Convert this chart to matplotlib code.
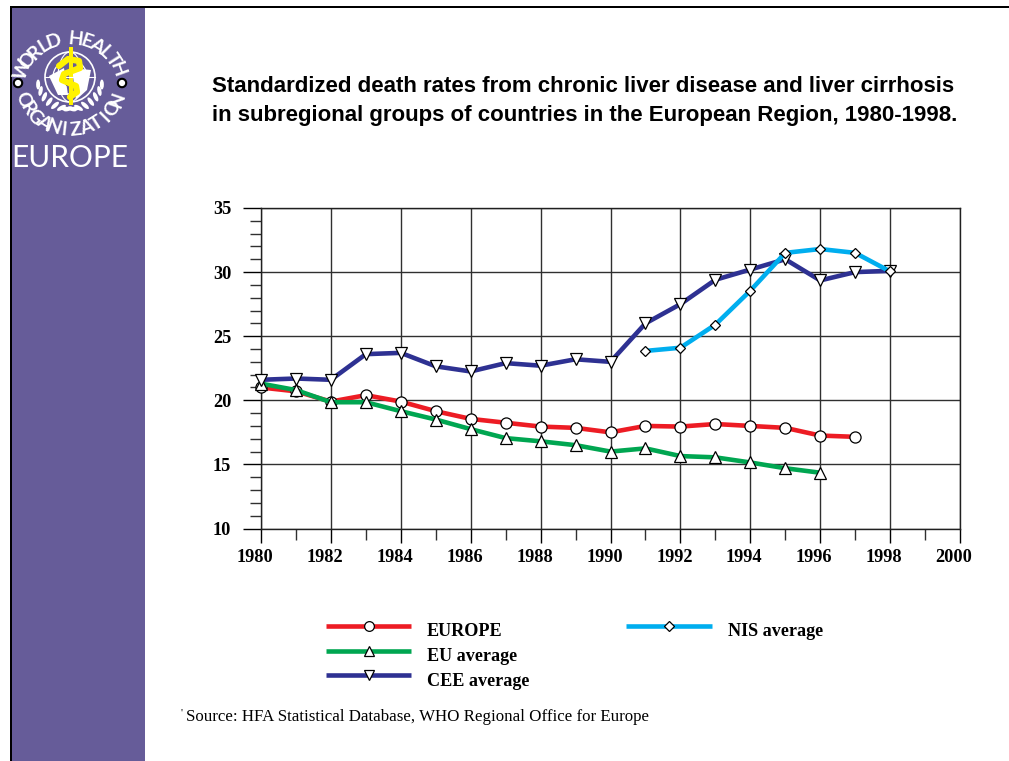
import numpy as np
import matplotlib
matplotlib.use('Agg')
import matplotlib.pyplot as plt
from matplotlib.lines import Line2D
from matplotlib.patches import Rectangle, Circle, Ellipse, Polygon
from matplotlib.transforms import ScaledTranslation

years = list(range(1980, 1999))

europe = [21.0, 20.7, 19.9, 20.4, 19.9, 19.15, 18.55, 18.25, 17.95, 17.85,
          17.5, 18.0, 17.95, 18.15, 18.0, 17.85, 17.25, 17.15]
eu = [21.3, 20.8, 19.85, 19.85, 19.15, 18.5, 17.75, 17.05, 16.8, 16.5,
      16.0, 16.25, 15.65, 15.55, 15.15, 14.7, 14.35]
cee = [21.6, 21.7, 21.6, 23.6, 23.7, 22.65, 22.25, 22.9, 22.7, 23.2,
       23.0, 26.0, 27.5, 29.4, 30.2, 31.0, 29.35, 30.0, 30.1]
nis_years = list(range(1991, 1999))
nis = [23.85, 24.1, 25.9, 28.55, 31.5, 31.8, 31.5, 30.05]

x_ticks = list(range(1980, 2001, 2))
y_ticks = [10, 15, 20, 25, 30, 35]

RED = '#ed1c24'
GREEN = '#00a651'
NAVY = '#2e3192'
CYAN = '#00aeef'
PURPLE = '#665c99'

title_lines = ['Standardized death rates from chronic liver disease and liver cirrhosis',
               'in subregional groups of countries in the European Region, 1980-1998.']
source = 'Source: HFA Statistical Database, WHO Regional Office for Europe'

W, H = 1009, 761
fig = plt.figure(figsize=(W / 100, H / 100), dpi=100)

# background layer in pixel coordinates
bg = fig.add_axes([0, 0, 1, 1], zorder=0)
bg.set_xlim(0, W)
bg.set_ylim(H, 0)
bg.axis('off')

bg.add_patch(Rectangle((11, 7), 134, 754, fc=PURPLE, ec='none'))
bg.add_patch(Rectangle((10, 5.5), 1000, 2, fc='black', ec='none'))
bg.add_patch(Rectangle((10, 5.5), 2, 756, fc='black', ec='none'))


def arc_text(txt, cx, cy, rx, ry, a0, a1, top=True):
    angles = np.linspace(a0, a1, len(txt))
    for ch, a in zip(txt, angles):
        px = cx + rx * np.cos(np.radians(a))
        py = cy - ry * np.sin(np.radians(a))
        rot = a - 90 if top else a + 90
        bg.text(px, py, ch, color='white', fontsize=14, family='Lato', fontweight='bold',
                rotation=rot, rotation_mode='anchor', ha='center', va='center')


# WHO emblem
cx, cy = 70, 85
arc_text('WORLD HEALTH', cx, cy, 50, 46, 160, 20)
arc_text('ORGANIZATION', cx, cy, 50, 45, 199, 341, top=False)
for dx in (18, 122):
    bg.add_patch(Circle((dx, 83), 4.2, fc='white', ec='black', lw=1.5))

gy = 77
bg.add_patch(Circle((cx, gy), 25, fc='none', ec='white', lw=1.2))
bg.add_patch(Circle((cx, gy), 17, fc='none', ec='white', lw=0.9))
bg.add_patch(Ellipse((cx, gy), 24, 50, fc='none', ec='white', lw=0.8))
bg.add_line(Line2D([cx - 25, cx + 25], [gy, gy], color='white', lw=0.8))
bg.add_patch(Polygon([[49, 76], [64, 68], [68, 95], [58, 95]], fc='white', ec='none'))
bg.add_patch(Polygon([[72, 68], [91, 70], [87, 90], [76, 100]], fc='white', ec='none'))
for a in np.arange(195, 290, 12):
    for side in (1, -1):
        lx = cx + side * 33 * np.cos(np.radians(a))
        ly = 76 - 33 * np.sin(np.radians(a))
        bg.add_patch(Ellipse((lx, ly), 10, 4, angle=side * (a + 75), fc='white', ec='none'))

bg.add_patch(Rectangle((68.5, 47), 4.5, 58, fc='#fff200', ec='none'))
bg.plot([59, 68, 79, 80, 64, 62, 76, 77, 70], [66, 59, 61, 68, 74, 80, 86, 92, 97],
        color='#fff200', lw=4.5, solid_capstyle='round')
bg.add_patch(Circle((62, 63), 1.8, fc='black', ec='none'))
bg.add_patch(Circle((67, 84), 1.6, fc='black', ec='none'))

bg.text(70, 167, 'EUROPE', color='white', fontsize=21.5, family='Lato', ha='center', va='baseline')

# title
bg.text(212, 92, title_lines[0], fontsize=16.05, fontweight='bold', family='Liberation Sans', va='baseline')
bg.text(212, 121, title_lines[1], fontsize=16.05, fontweight='bold', family='Liberation Sans', va='baseline')

# chart
ax = fig.add_axes([261 / W, 1 - 528.5 / H, (960 - 261) / W, (528.5 - 208) / H], zorder=1)
ax.patch.set_alpha(0)
ax.set_xlim(1980, 2000)
ax.set_ylim(10, 35)
ax.set_xticks(x_ticks)
ax.set_xticks(range(1980, 2001), minor=True)
ax.set_yticks(y_ticks)
ax.set_yticks(range(10, 36), minor=True)
ax.grid(True, which='major', color='#303030', lw=1)
ax.set_axisbelow(True)
ax.tick_params(which='major', length=13, width=1, labelsize=13.2, pad=8.5, color='black')
ax.tick_params(which='minor', length=8, width=1, color='#303030')
ax.tick_params(axis='x', which='major', length=10, pad=5)
shift = ScaledTranslation(-6 / 100, 0, fig.dpi_scale_trans)
for lab in ax.get_xticklabels():
    lab.set_transform(lab.get_transform() + shift)
for lab in ax.get_xticklabels() + ax.get_yticklabels():
    lab.set_fontfamily('Liberation Serif')
    lab.set_fontweight('bold')
for sp in ax.spines.values():
    sp.set_linewidth(1)
    sp.set_color('#202020')

style = dict(lw=3.3, mfc='white', mec='black', mew=0.9, clip_on=False, solid_joinstyle='round')
ax.plot(years[:len(europe)], europe, color=RED, marker='o', ms=8, zorder=3, **style)
ax.plot(years[:len(eu)], eu, color=GREEN, marker='^', ms=8, zorder=4, **style)
ax.plot(years, cee, color=NAVY, marker='v', ms=8, zorder=5, **style)
ax.plot(nis_years, nis, color=CYAN, marker='D', ms=5.4, zorder=6, **style)

# legend
legend_rows = [
    (326, 411, 427, 626, 'EUROPE', RED, 'o', 7),
    (326, 411, 427, 650.5, 'EU average', GREEN, '^', 7),
    (326, 411, 427, 675, 'CEE average', NAVY, 'v', 7),
    (626, 712, 728, 626, 'NIS average', CYAN, 'D', 5),
]
for x0, x1, tx, y, name, col, mk, ms in legend_rows:
    bg.plot([x0, x1], [y, y], color=col, lw=3.3, solid_capstyle='butt')
    bg.plot([(x0 + x1) / 2], [y], marker=mk, ms=ms, mfc='white', mec='black', mew=0.9, color=col)
    bg.text(tx, y + 10.5, name, fontsize=13.1, fontweight='bold', family='Liberation Serif', va='baseline')

bg.text(181, 716, "'", fontsize=8, family='Liberation Serif', va='baseline')
bg.text(186, 721, source, fontsize=12.2, family='Liberation Serif', va='baseline')

bg.set_xlim(0, W)
bg.set_ylim(H, 0)
fig.savefig('out.png', dpi=100)
plt.close(fig)
